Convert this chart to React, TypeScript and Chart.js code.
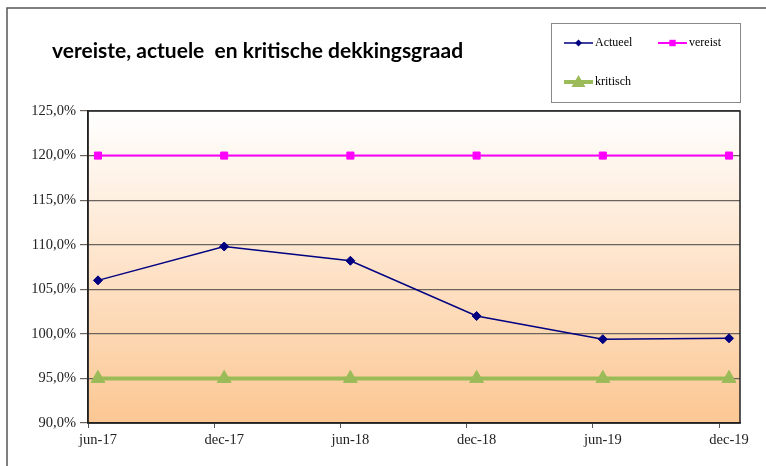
import React, { useEffect, useRef } from "react";
import { Chart, registerables } from "chart.js";

Chart.register(...registerables);

const categories = ["jun-17", "dec-17", "jun-18", "dec-18", "jun-19", "dec-19"];
const actueel = [106.0, 109.8, 108.2, 102.0, 99.4, 99.5];
const vereist = [120, 120, 120, 120, 120, 120];
const kritisch = [95, 95, 95, 95, 95, 95];
const yTicks = [90, 95, 100, 105, 110, 115, 120, 125];
const titleText = "vereiste, actuele  en kritische dekkingsgraad";

const TICK_SHIFT = 0.079;

function drawPointShape(ctx: any, style: string, r: number, x: number, y: number) {
  ctx.beginPath();
  if (style === "rectRot") {
    ctx.moveTo(x, y - r);
    ctx.lineTo(x + r, y);
    ctx.lineTo(x, y + r);
    ctx.lineTo(x - r, y);
  } else if (style === "rect") {
    ctx.rect(x - r * 0.8, y - r * 0.8, r * 1.6, r * 1.6);
  } else {
    ctx.moveTo(x, y - r);
    ctx.lineTo(x + r, y + r * 0.7);
    ctx.lineTo(x - r, y + r * 0.7);
  }
  ctx.closePath();
  ctx.fill();
}

const decorPlugin = {
  id: "decor",
  beforeDraw(chart: any) {
    const { ctx, chartArea } = chart;
    const { left, top, right, bottom } = chartArea;
    ctx.save();
    ctx.fillStyle = "#ffffff";
    ctx.fillRect(0, 0, chart.width, chart.height);
    const g = ctx.createLinearGradient(0, top, 0, bottom);
    g.addColorStop(0, "#ffffff");
    g.addColorStop(1, "#fcc793");
    ctx.fillStyle = g;
    ctx.fillRect(left, top, right - left, bottom - top);
    ctx.restore();
  },
  afterDraw(chart: any) {
    const { ctx, chartArea } = chart;
    const { left, top, right, bottom } = chartArea;
    ctx.save();
    ctx.strokeStyle = "#222";
    ctx.lineWidth = 1.5;
    ctx.strokeRect(left, top, right - left, bottom - top);
    ctx.strokeStyle = "#555";
    ctx.lineWidth = 1.5;
    ctx.beginPath();
    ctx.moveTo(7, chart.height);
    ctx.lineTo(7, 8);
    ctx.lineTo(chart.width, 8);
    ctx.stroke();
    ctx.fillStyle = "#000";
    ctx.font = "bold 21px Lato, sans-serif";
    ctx.textBaseline = "alphabetic";
    ctx.textAlign = "left";
    ctx.fillText(titleText, 52, 58);
    ctx.strokeStyle = "#888";
    ctx.lineWidth = 1;
    ctx.strokeRect(551.5, 23.5, 189, 79);
    const items = [
      { ds: 0, x: 564, y: 43 },
      { ds: 1, x: 658, y: 43 },
      { ds: 2, x: 564, y: 82 },
    ];
    ctx.font = "12px 'Liberation Serif', serif";
    ctx.textBaseline = "middle";
    items.forEach((it) => {
      const ds = chart.data.datasets[it.ds];
      ctx.strokeStyle = ds.borderColor;
      ctx.lineWidth = ds.borderWidth;
      ctx.beginPath();
      ctx.moveTo(it.x, it.y);
      ctx.lineTo(it.x + 29, it.y);
      ctx.stroke();
      ctx.fillStyle = ds.pointBackgroundColor;
      drawPointShape(ctx, ds.pointStyle, ds.pointRadius - 1, it.x + 14.5, it.y);
      ctx.fillStyle = "#000";
      ctx.fillText(ds.label, it.x + 31, it.y);
    });
    ctx.restore();
  },
};

export default function App() {
  const ref = useRef<HTMLCanvasElement>(null);
  useEffect(() => {
    if (!ref.current) return;
    const toPts = (arr: number[]) => arr.map((v, i) => ({ x: i, y: v }));
    const chart = new Chart(ref.current, {
      type: "line",
      data: {
        datasets: [
          {
            label: "Actueel",
            data: toPts(actueel),
            borderColor: "#000080",
            backgroundColor: "#000080",
            pointBackgroundColor: "#000080",
            pointBorderColor: "#000080",
            borderWidth: 1.5,
            pointStyle: "rectRot",
            pointRadius: 4.5,
            pointBorderWidth: 1,
            order: 0,
          },
          {
            label: "vereist",
            data: toPts(vereist),
            borderColor: "#ff00ff",
            backgroundColor: "#ff00ff",
            pointBackgroundColor: "#ff00ff",
            pointBorderColor: "#ff00ff",
            borderWidth: 2,
            pointStyle: "rect",
            pointRadius: 5,
            pointBorderWidth: 1,
            order: 1,
          },
          {
            label: "kritisch",
            data: toPts(kritisch),
            borderColor: "#9bbb59",
            backgroundColor: "#9bbb59",
            pointBackgroundColor: "#9bbb59",
            pointBorderColor: "#9bbb59",
            borderWidth: 4,
            pointStyle: "triangle",
            pointRadius: 8,
            pointBorderWidth: 1,
            order: 2,
          },
        ],
      },
      options: {
        animation: false,
        responsive: false,
        devicePixelRatio: 1,
        layout: { padding: { top: 111, right: 26, left: 0, bottom: 0 } },
        plugins: { legend: { display: false }, title: { display: false }, tooltip: { enabled: false } },
        scales: {
          x: {
            type: "linear",
            min: -TICK_SHIFT,
            max: categories.length - 1 + 0.087,
            afterBuildTicks: (axis: any) => {
              axis.ticks = categories.map((_, i) => ({ value: i - TICK_SHIFT }));
            },
            afterFit: (axis: any) => {
              axis.height = 43;
            },
            ticks: {
              callback: (_v: any, i: number) => categories[i],
              labelOffset: 10,
              maxRotation: 0,
              autoSkip: false,
              color: "#222",
              font: { family: "'Liberation Serif', serif", size: 14.5 },
              padding: 3,
            },
            grid: { drawOnChartArea: false, tickLength: 5, color: "#555" },
            border: { color: "#222", width: 1.5 },
          },
          y: {
            min: 90,
            max: 125,
            afterBuildTicks: (axis: any) => {
              axis.ticks = yTicks.map((v) => ({ value: v }));
            },
            afterFit: (axis: any) => {
              axis.width = 88;
            },
            ticks: {
              callback: (v: any) => Number(v).toFixed(1).replace(".", ",") + "%",
              color: "#222",
              font: { family: "'Liberation Serif', serif", size: 14.5 },
              padding: 4,
            },
            grid: { color: "#6a625c", lineWidth: 1.2, tickLength: 8 },
            border: { color: "#222", width: 1.5 },
          },
        },
      },
      plugins: [decorPlugin],
    } as any);
    return () => chart.destroy();
  }, []);
  return (
    <div style={{ position: "fixed", left: 0, top: 0, width: 766, height: 466, background: "#fff" }}>
      <canvas ref={ref} width={766} height={466} style={{ width: 766, height: 466, display: "block" }} />
    </div>
  );
}
